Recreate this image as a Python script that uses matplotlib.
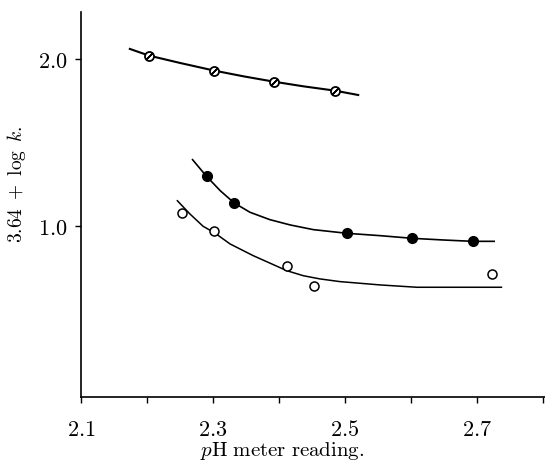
import matplotlib
matplotlib.use("Agg")
import matplotlib.pyplot as plt
from matplotlib.ticker import FuncFormatter

plt.rcParams["font.family"] = ["DejaVu Serif"]
plt.rcParams["mathtext.fontset"] = "cm"

# hatched circles (top set)
top_x = [2.203, 2.302, 2.392, 2.485]
top_y = [2.018, 1.928, 1.862, 1.808]
top_curve_x = [2.174, 2.203, 2.250, 2.302, 2.346, 2.392, 2.437, 2.485, 2.520]
top_curve_y = [2.060, 2.020, 1.976, 1.930, 1.896, 1.864, 1.836, 1.810, 1.784]

# filled circles
fill_x = [2.291, 2.332, 2.503, 2.602, 2.694]
fill_y = [1.299, 1.138, 0.958, 0.928, 0.910]
fill_curve_x = [2.269, 2.290, 2.311, 2.332, 2.356, 2.386, 2.417, 2.452, 2.503,
                2.553, 2.602, 2.649, 2.693, 2.726]
fill_curve_y = [1.397, 1.298, 1.211, 1.138, 1.082, 1.038, 1.006, 0.978, 0.956,
                0.942, 0.926, 0.916, 0.908, 0.908]

# open circles
open_x = [2.253, 2.302, 2.412, 2.453, 2.723]
open_y = [1.078, 0.970, 0.760, 0.641, 0.713]
open_curve_x = [2.246, 2.265, 2.285, 2.302, 2.326, 2.361, 2.386, 2.412, 2.437,
                2.462, 2.492, 2.553, 2.609, 2.737]
open_curve_y = [1.151, 1.072, 0.998, 0.960, 0.892, 0.822, 0.778, 0.732, 0.702,
                0.683, 0.667, 0.647, 0.633, 0.633]

x_ticks = [2.1, 2.3, 2.5, 2.7]
x_minor = [2.2, 2.4, 2.6, 2.8]
y_ticks = [1.0, 2.0]

fig = plt.figure(figsize=(5.45, 4.64), dpi=100)
ax = fig.add_axes([81 / 545, 66 / 464, 464 / 545, 385 / 464])

ax.plot(top_curve_x, top_curve_y, color="black", lw=1.5)
ax.plot(fill_curve_x, fill_curve_y, color="black", lw=1.2)
ax.plot(open_curve_x, open_curve_y, color="black", lw=1.1)

ax.plot(top_x, top_y, ls="none", marker="o", ms=6.5, mfc="white", mec="black", mew=1.3)
ax.plot(top_x, top_y, ls="none", marker=(2, 2, -45), ms=6, mec="black", mew=1.0)
ax.plot(fill_x, fill_y, ls="none", marker="o", ms=7, mfc="black", mec="black")
ax.plot(open_x, open_y, ls="none", marker="o", ms=6.5, mfc="white", mec="black", mew=1.1)

ax.set_xlim(2.1, 2.803)
ax.set_ylim(-0.024, 2.281)
ax.set_xticks(x_ticks)
ax.set_xticks(x_minor, minor=True)
ax.set_yticks(y_ticks)
fmt = FuncFormatter(lambda v, pos: f"${v:.1f}$")
ax.xaxis.set_major_formatter(fmt)
ax.yaxis.set_major_formatter(fmt)

ax.spines["top"].set_visible(False)
ax.spines["right"].set_visible(False)
for s in ("left", "bottom"):
    ax.spines[s].set_linewidth(1.2)

ax.tick_params(axis="x", which="both", direction="out", length=4, width=1, pad=11, labelsize=16)
ax.tick_params(axis="y", direction="out", length=4, width=1, pad=6, labelsize=16)

ax.set_xlabel(r"$p\mathrm{H\ meter\ reading.}$", fontsize=15, va="bottom")
ax.set_ylabel(r"$3.64\ +\ \log\ k.$", fontsize=14)
ax.xaxis.set_label_coords(0.433, -0.166)
ax.yaxis.set_label_coords(-0.114, 0.555)

fig.savefig("out.png", dpi=100)
